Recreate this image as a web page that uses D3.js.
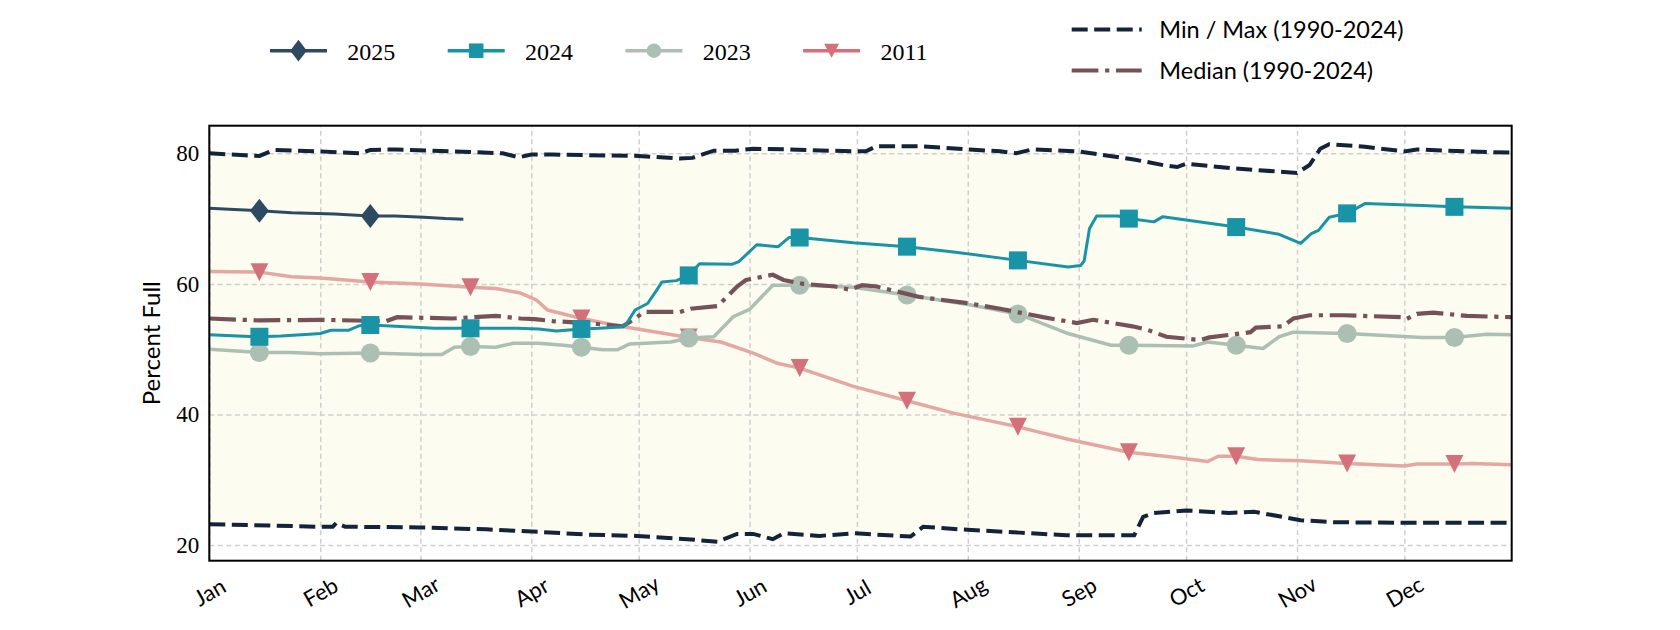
<!DOCTYPE html>
<html><head><meta charset="utf-8">
<script src="https://cdn.jsdelivr.net/npm/d3@7"></script>
<style>body{margin:0;background:#fff}svg{display:block}</style>
</head><body>
<svg id="chart" width="1680" height="630"></svg>
<script>
// ---------- data ----------
const months = ["Jan","Feb","Mar","Apr","May","Jun","Jul","Aug","Sep","Oct","Nov","Dec"];
const yTicks = [20, 40, 60, 80];
const markerDays = [14,45,73,104,134,165,195,226,257,287,318,348]; // 15th of each month (day of year)

const maxDays = [0,10,14,18,31,42,45,52,68,82,86.5,90,96,120,131.5,135,141,147,152,161,180,183.5,186.5,198.5,212.5,221,225.5,230,243,258,267.5,270.5,273,286,304,307.5,310.5,313,323,334,337.5,351,364];
const maxVals = [80.0,79.7,79.6,80.5,80.3,80.0,80.5,80.6,80.3,80.0,79.4,79.8,79.8,79.6,79.2,79.3,80.4,80.4,80.7,80.6,80.3,80.3,81.1,81.1,80.6,80.3,80.0,80.6,80.3,79.1,78.1,77.9,78.4,77.7,77.0,78.2,80.7,81.4,81.0,80.3,80.6,80.3,80.1];

const minDays = [0,31,34.5,35.5,38,59,77.5,92.5,105.5,119.5,133.5,142,147.5,152,157.5,160.5,170.5,180,196,199.5,210,226.5,239.5,258.5,261,264,273,285,292,305,314,333,364];
const minVals = [23.2,22.8,22.8,23.4,22.8,22.7,22.4,22.0,21.6,21.4,20.9,20.5,21.7,21.7,20.9,21.8,21.4,21.8,21.3,22.8,22.4,21.9,21.5,21.5,24.3,24.9,25.3,24.9,25.1,23.8,23.5,23.4,23.4];

const medDays = [0,14,31,49.5,52.5,68,80,87,91,96,105.5,115.5,118.5,121.5,131.5,134.5,142,144.5,147.5,150,157.5,160.5,166,175,179,182.5,186.5,198.5,212.5,221,226.5,233,242.5,247,258,262,267.5,277,279.5,291,292.5,300,303,307.5,317,333,334.5,337.5,342,351.5,364];
const medVals = [54.7,54.4,54.5,54.3,54.9,54.7,55.1,54.7,54.6,54.3,54.0,53.5,54.5,55.7,55.7,56.2,56.6,57.9,59.6,60.6,61.4,60.6,60.0,59.6,59.1,59.8,59.6,58.0,57.0,56.2,55.6,54.9,54.0,54.5,53.5,53.0,51.9,51.4,51.8,52.6,53.3,53.5,54.7,55.2,55.2,54.9,54.6,55.4,55.6,55.1,54.9];

const days2025 = [0,7,14,23,35,45,52,60,66,71];
const vals2025 = [71.6,71.4,71.2,70.9,70.7,70.4,70.4,70.2,70.0,69.9];

const days2024 = [0,8,14,20,28,31,34,39,42,45,52,63,73,86,92,97,104,109,115,116.5,119,122.5,125,126.5,130.5,134,137,146,148,153,159,162,165,180,195,208,226,240,243.5,244.5,246,248,254,257,264,266.5,287,299,305,308,310,313,318,323,339,348,364];
const vals2024 = [52.2,52.0,51.9,52.0,52.3,52.4,52.9,52.9,53.6,53.7,53.5,53.2,53.2,53.2,53.1,52.8,53.1,53.2,53.4,53.8,56.0,57.0,59.0,60.3,60.5,61.3,63.1,63.0,63.4,66.0,65.7,67.1,67.1,66.3,65.7,64.9,63.6,62.6,62.8,63.5,68.5,70.4,70.4,70.0,69.5,70.3,68.7,67.6,66.2,67.7,68.2,70.2,70.8,72.3,72.0,71.8,71.6];

const days2023 = [0,14,23,31,45,59,65,68.5,73,80,85,92,99,104,110,114,117.5,129,134,141,146.5,151,157.5,165,180,195,212.5,226,240,252,257,275,279,287,294.5,299,303,318,339,348,357,364];
const vals2023 = [50.0,49.5,49.5,49.3,49.4,49.2,49.2,50.3,50.4,50.3,50.9,50.9,50.6,50.3,49.9,49.9,50.8,51.1,51.7,51.9,55.0,56.1,59.8,59.8,59.5,58.3,56.8,55.4,52.4,50.6,50.6,50.5,51.1,50.6,50.1,51.9,52.6,52.4,51.8,51.8,52.3,52.2];

const days2011 = [0,14,23,31,45,59,73,80,87,91.5,94.5,104,115,134,143,152,159,165,180,195,208,226,240,257,269,279,282,287,293,305,318,334,337.5,348,353,364];
const vals2011 = [61.9,61.8,61.1,60.9,60.3,60.0,59.5,59.3,58.6,57.5,56.0,54.7,53.5,51.8,51.1,49.4,47.8,47.1,44.3,42.1,40.2,38.1,36.2,34.2,33.5,32.8,33.6,33.6,33.1,32.9,32.5,32.1,32.4,32.4,32.5,32.3];

// ---------- setup ----------
const svg = d3.select("#chart");
const L = 209.3, R = 1511.7, T = 125.7, B = 560.7;
const base = Date.UTC(2023, 0, 1);
const toDate = d => new Date(base + d * 864e5);
const x = d3.scaleUtc().domain([new Date(Date.UTC(2023,0,1)), new Date(Date.UTC(2023,11,31))]).range([L, R]);
const y = d3.scaleLinear().domain([17.6, 84.23]).range([B, T]);
const pts = (ds, vs) => ds.map((d, i) => ({d, v: vs[i]}));
const line = d3.line().x(p => x(toDate(p.d))).y(p => y(p.v));

const SANS = "Lato, 'Open Sans', sans-serif";
const SERIF = "'Liberation Serif', 'DejaVu Serif', serif";

// fill between min and max
const maxPts = pts(maxDays, maxVals), minPts = pts(minDays, minVals);
svg.append("path")
  .attr("d", line(maxPts.concat(minPts.slice().reverse())) + "Z")
  .attr("fill", "#fcfcf1");

// grid
const monthDates = months.map((m, i) => new Date(Date.UTC(2023, i, 1)));
const gx = svg.append("g").attr("transform", `translate(0,${B})`)
  .call(d3.axisBottom(x).tickValues(monthDates).tickSize(-(B - T)).tickFormat(""));
gx.select(".domain").remove();
gx.selectAll("line").attr("stroke", "#cfcfcf").attr("stroke-width", 1.5).attr("stroke-dasharray", "5,3.5");
const gy = svg.append("g").attr("transform", `translate(${L},0)`)
  .call(d3.axisLeft(y).tickValues(yTicks).tickSize(-(R - L)).tickFormat(""));
gy.select(".domain").remove();
gy.selectAll("line").attr("stroke", "#cfcfcf").attr("stroke-width", 1.5).attr("stroke-dasharray", "5,3.5");

// shapes
const shapes = {
  diamond: (w, h) => `M0,${-h/2}L${w/2},0L0,${h/2}L${-w/2},0Z`,
  square: (s) => `M${-s/2},${-s/2}h${s}v${s}h${-s}Z`,
  circle: (dd) => { const r = dd/2; return `M${r},0A${r},${r} 0 1,1 ${-r},0A${r},${r} 0 1,1 ${r},0Z`; },
  tri: (w, h) => `M${-w/2},${-h/2}L${w/2},${-h/2}L0,${h/2}Z`
};

const refLines = [
  {name: "max", data: maxPts, color: "#13233a", lw: 4, dash: "16,6.5"},
  {name: "min", data: minPts, color: "#13233a", lw: 4, dash: "16,6.5"}
];
const years = [
  {name: "2025", data: pts(days2025, vals2025), line: "#2e4a62", mark: "#2e4a62", lw: 3, shape: "diamond", size: [19, 24], lsize: [16.7, 21.7]},
  {name: "2024", data: pts(days2024, vals2024), line: "#1993a6", mark: "#1993a6", lw: 3, shape: "square", size: [18], lsize: [14.5]},
  {name: "2023", data: pts(days2023, vals2023), line: "#abbfb3", mark: "#abbfb3", lw: 3.5, shape: "circle", size: [19], lsize: [14.5]},
  {name: "2011", data: pts(days2011, vals2011), line: "#e4a7a1", mark: "#d4707a", lw: 3.5, shape: "tri", size: [18, 18], lsize: [15, 14]}
];
const median = {data: pts(medDays, medVals), color: "#775158", lw: 4.2, dash: "26.7,6.7,4.2,6.7"};

refLines.forEach(s => svg.append("path").attr("d", line(s.data)).attr("fill", "none")
  .attr("stroke", s.color).attr("stroke-width", s.lw).attr("stroke-dasharray", s.dash));

function drawYear(s) {
  svg.append("path").attr("d", line(s.data)).attr("fill", "none")
    .attr("stroke", s.line).attr("stroke-width", s.lw).attr("stroke-linejoin", "round");
  svg.append("g").selectAll("path").data(s.data.filter(p => markerDays.includes(p.d))).join("path")
    .attr("d", shapes[s.shape](...s.size))
    .attr("transform", p => `translate(${x(toDate(p.d))},${y(p.v)})`)
    .attr("fill", s.mark);
}
const byName = n => years.find(s => s.name === n);
drawYear(byName("2011"));
drawYear(byName("2023"));
svg.append("path").attr("d", line(median.data)).attr("fill", "none")
  .attr("stroke", median.color).attr("stroke-width", median.lw).attr("stroke-dasharray", median.dash);
drawYear(byName("2024"));
drawYear(byName("2025"));

// axes labels
const ax = svg.append("g").attr("transform", `translate(0,${B})`)
  .call(d3.axisBottom(x).tickValues(monthDates).tickSize(0).tickFormat((d, i) => months[i]));
ax.select(".domain").remove();
ax.selectAll("text").attr("y", 0).attr("dy", "0.35em")
  .attr("transform", "translate(0,31.5) rotate(-30)")
  .attr("text-anchor", "middle").attr("fill", "#000")
  .style("font-family", SANS).style("font-size", "22px");

const ay = svg.append("g").attr("transform", `translate(${L},0)`)
  .call(d3.axisLeft(y).tickValues(yTicks).tickSize(0).tickPadding(10));
ay.select(".domain").remove();
ay.selectAll("text").attr("fill", "#000").style("font-family", SERIF).style("font-size", "23px");

svg.append("text").attr("transform", `translate(150,${(T + B) / 2}) rotate(-90)`)
  .attr("text-anchor", "middle").attr("dominant-baseline", "central")
  .style("font-family", SANS).style("font-size", "24px").text("Percent Full");

// frame
svg.append("rect").attr("x", L).attr("y", T).attr("width", R - L).attr("height", B - T)
  .attr("fill", "none").attr("stroke", "#000").attr("stroke-width", 2);

// legend: years
const legOrder = ["2025", "2024", "2023", "2011"];
legOrder.forEach((n, i) => {
  const s = byName(n);
  const g = svg.append("g").attr("transform", `translate(${270 + i * 177.7},50.7)`);
  g.append("line").attr("x1", 0).attr("x2", 57).attr("stroke", n === "2011" ? s.mark : s.line).attr("stroke-width", 3.6);
  g.append("path").attr("d", shapes[s.shape](...s.lsize)).attr("transform", "translate(28.5,0)").attr("fill", s.mark);
  g.append("text").attr("x", 77.3).attr("y", 9.3).style("font-family", SERIF).style("font-size", "24px").text(n);
});

// legend: reference lines
const refLeg = [
  {label: "Min / Max (1990-2024)", color: "#13233a", lw: 4, dash: "16,6.5", y: 29.5},
  {label: "Median (1990-2024)", color: "#775158", lw: 4.2, dash: "26.7,6.7,4.2,6.7", y: 70.5}
];
refLeg.forEach(r => {
  const g = svg.append("g").attr("transform", `translate(1071.7,${r.y})`);
  g.append("line").attr("x1", 0).attr("x2", 70).attr("stroke", r.color).attr("stroke-width", r.lw).attr("stroke-dasharray", r.dash);
  g.append("text").attr("x", 87.6).attr("y", 8.3).style("font-family", SANS).style("font-size", "23.5px").text(r.label);
});
</script>
</body></html>
